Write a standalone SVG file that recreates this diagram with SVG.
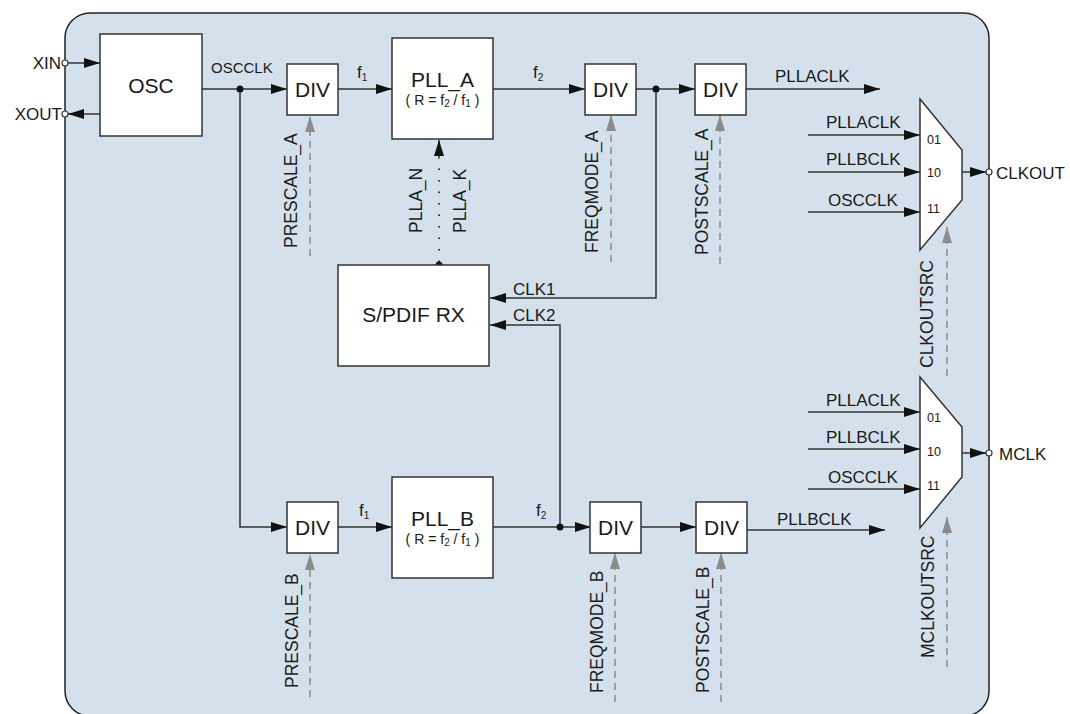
<svg xmlns="http://www.w3.org/2000/svg" width="1070" height="714" viewBox="0 0 1070 714">
<defs>
<style>
.box{fill:#fff;stroke:#333;stroke-width:1.5}
.ln{fill:none;stroke:#333;stroke-width:1.5}
.ctl{fill:none;stroke:#8c8c8c;stroke-width:1.5;stroke-dasharray:7 5}
.dot{fill:#111}
.pin{fill:#fff;stroke:#333;stroke-width:1.2}
text{font-family:"Liberation Sans",Arial,sans-serif;fill:#1a1a1a;font-weight:normal}
.big{font-size:21px;text-anchor:middle}
.lbl{font-size:17px}
.rot{font-size:17.5px}
.sm{font-size:12.5px}
.frm{font-size:14px;text-anchor:middle}
</style>
<marker id="ah" markerUnits="userSpaceOnUse" markerWidth="17" markerHeight="11" refX="16" refY="5" orient="auto">
<path d="M0,0 L16,5 L0,10 z" fill="#111"/>
</marker>
<marker id="ag" markerUnits="userSpaceOnUse" markerWidth="17" markerHeight="11" refX="16" refY="5" orient="auto">
<path d="M0,0 L16,5 L0,10 z" fill="#8c8c8c"/>
</marker>
</defs>
<rect x="65" y="13" width="924" height="703" rx="25" ry="25" fill="#d4e1ec" stroke="#222" stroke-width="1.5"/>

<g id="connectors">
<path class="ln" d="M68,63 H100" marker-end="url(#ah)"/>
<path class="ln" d="M100,114 H68" marker-end="url(#ah)"/>
<path class="ln" d="M202,89 H287" marker-end="url(#ah)"/>
<path class="ln" d="M338,89 H392" marker-end="url(#ah)"/>
<path class="ln" d="M493,89 H585" marker-end="url(#ah)"/>
<path class="ln" d="M636,89 H695" marker-end="url(#ah)"/>
<path class="ln" d="M746,89 H880" marker-end="url(#ah)"/>
<path class="ln" d="M240,89 V527 H287" marker-end="url(#ah)"/>
<path class="ln" d="M338,527 H392" marker-end="url(#ah)"/>
<path class="ln" d="M493,527 H591" marker-end="url(#ah)"/>
<path class="ln" d="M641,527 H696" marker-end="url(#ah)"/>
<path class="ln" d="M747,530 H885" marker-end="url(#ah)"/>
<path class="ln" d="M656,89 V298 H490" marker-end="url(#ah)"/>
<path class="ln" d="M560,527 V325 H490" marker-end="url(#ah)"/>
<path fill="none" stroke="#333" stroke-width="2" stroke-dasharray="1.5 10" d="M439,262 V158"/>
<path class="ln" d="M439,158 V140" marker-end="url(#ah)"/>
<path class="ln" d="M808,135 H920" marker-end="url(#ah)"/>
<path class="ln" d="M808,172 H920" marker-end="url(#ah)"/>
<path class="ln" d="M808,212 H920" marker-end="url(#ah)"/>
<path class="ln" d="M808,412 H920" marker-end="url(#ah)"/>
<path class="ln" d="M808,449 H920" marker-end="url(#ah)"/>
<path class="ln" d="M808,489 H920" marker-end="url(#ah)"/>
<path class="ln" d="M962,172 H986" marker-end="url(#ah)"/>
<path class="ln" d="M962,453 H986" marker-end="url(#ah)"/>
<path class="ctl" d="M310,256 V116" marker-end="url(#ag)"/>
<path class="ctl" d="M611,262 V115" marker-end="url(#ag)"/>
<path class="ctl" d="M720,264 V115" marker-end="url(#ag)"/>
<path class="ctl" d="M310,697 V554" marker-end="url(#ag)"/>
<path class="ctl" d="M615,702 V553" marker-end="url(#ag)"/>
<path class="ctl" d="M721,702 V553" marker-end="url(#ag)"/>
<path class="ctl" d="M947,376 V227" marker-end="url(#ag)"/>
<path class="ctl" d="M947,667 V517" marker-end="url(#ag)"/>
<circle class="dot" cx="240" cy="89" r="3.5"/>
<circle class="dot" cx="656" cy="89" r="3.5"/>
<circle class="dot" cx="560" cy="527" r="3.5"/>
<circle class="dot" cx="439" cy="265" r="3.5"/>
<text class="lbl" x="211" y="73" style="font-size:15px">OSCCLK</text>
<text class="lbl" x="357" y="78">f<tspan font-size="10" dy="3">1</tspan></text>
<text class="lbl" x="533" y="78">f<tspan font-size="10" dy="3">2</tspan></text>
<text class="lbl" x="359" y="516">f<tspan font-size="10" dy="3">1</tspan></text>
<text class="lbl" x="536" y="516">f<tspan font-size="10" dy="3">2</tspan></text>
<text class="lbl" x="775" y="82">PLLACLK</text>
<text class="lbl" x="777" y="525">PLLBCLK</text>
<text class="lbl" x="513" y="295">CLK1</text>
<text class="lbl" x="513" y="321">CLK2</text>
<text class="lbl" x="826" y="128">PLLACLK</text>
<text class="lbl" x="826" y="165">PLLBCLK</text>
<text class="lbl" x="828" y="206">OSCCLK</text>
<text class="lbl" x="826" y="406">PLLACLK</text>
<text class="lbl" x="826" y="443">PLLBCLK</text>
<text class="lbl" x="828" y="483">OSCCLK</text>
<text class="rot" transform="translate(297,248) rotate(-90)">PRESCALE_A</text>
<text class="rot" transform="translate(298,688) rotate(-90)">PRESCALE_B</text>
<text class="rot" transform="translate(598,253) rotate(-90)">FREQMODE_A</text>
<text class="rot" transform="translate(603,693) rotate(-90)">FREQMODE_B</text>
<text class="rot" transform="translate(708,255) rotate(-90)">POSTSCALE_A</text>
<text class="rot" transform="translate(709,693) rotate(-90)">POSTSCALE_B</text>
<text class="rot" transform="translate(422,233) rotate(-90)">PLLA_N</text>
<text class="rot" transform="translate(466,233) rotate(-90)">PLLA_K</text>
<text class="rot" transform="translate(933,368) rotate(-90)">CLKOUTSRC</text>
<text class="rot" transform="translate(934,658) rotate(-90)">MCLKOUTSRC</text>
</g>

<g id="pin-xin"><circle class="pin" cx="65" cy="63" r="3"/><text class="lbl" x="61" y="69" text-anchor="end">XIN</text></g>
<g id="pin-xout"><circle class="pin" cx="65" cy="114" r="3"/><text class="lbl" x="62" y="120" text-anchor="end">XOUT</text></g>
<g id="pin-clkout"><circle class="pin" cx="989" cy="172" r="3"/><text class="lbl" x="996" y="179">CLKOUT</text></g>
<g id="pin-mclk"><circle class="pin" cx="989" cy="453" r="3"/><text class="lbl" x="999" y="460">MCLK</text></g>

<g id="osc"><rect class="box" x="100" y="34" width="102" height="102"/><text class="big" x="151" y="92.5">OSC</text></g>
<g id="div-prescale-a"><rect class="box" x="287" y="64" width="51" height="51"/><text class="big" x="312.5" y="97">DIV</text></g>
<g id="pll-a"><rect class="box" x="392" y="38" width="101" height="101"/><text class="big" x="442.5" y="87">PLL_A</text><text class="frm" x="442.5" y="105">( R = f<tspan font-size="10" dy="2">2</tspan><tspan dy="-2"> / f</tspan><tspan font-size="10" dy="2">1</tspan><tspan dy="-2"> )</tspan></text></g>
<g id="div-freqmode-a"><rect class="box" x="585" y="64" width="51" height="51"/><text class="big" x="610.5" y="97">DIV</text></g>
<g id="div-postscale-a"><rect class="box" x="695" y="64" width="51" height="51"/><text class="big" x="720.5" y="97">DIV</text></g>
<g id="spdif-rx"><rect class="box" x="338" y="265" width="151" height="101"/><text class="big" x="413.5" y="322">S/PDIF RX</text></g>
<g id="div-prescale-b"><rect class="box" x="287" y="502" width="51" height="51"/><text class="big" x="312.5" y="535">DIV</text></g>
<g id="pll-b"><rect class="box" x="392" y="477" width="101" height="101"/><text class="big" x="442.5" y="526">PLL_B</text><text class="frm" x="442.5" y="544">( R = f<tspan font-size="10" dy="2">2</tspan><tspan dy="-2"> / f</tspan><tspan font-size="10" dy="2">1</tspan><tspan dy="-2"> )</tspan></text></g>
<g id="div-freqmode-b"><rect class="box" x="590" y="502" width="51" height="51"/><text class="big" x="615.5" y="535">DIV</text></g>
<g id="div-postscale-b"><rect class="box" x="696" y="502" width="51" height="51"/><text class="big" x="721.5" y="535">DIV</text></g>
<g id="mux-clkout"><path class="box" d="M920,99 L962,150 L962,200 L920,250 Z"/><text class="sm" x="927" y="144">01</text><text class="sm" x="927" y="177">10</text><text class="sm" x="927" y="213">11</text></g>
<g id="mux-mclk"><path class="box" d="M920,377 L962,427 L962,477 L920,528 Z"/><text class="sm" x="927" y="422">01</text><text class="sm" x="927" y="456">10</text><text class="sm" x="927" y="490">11</text></g>
</svg>
